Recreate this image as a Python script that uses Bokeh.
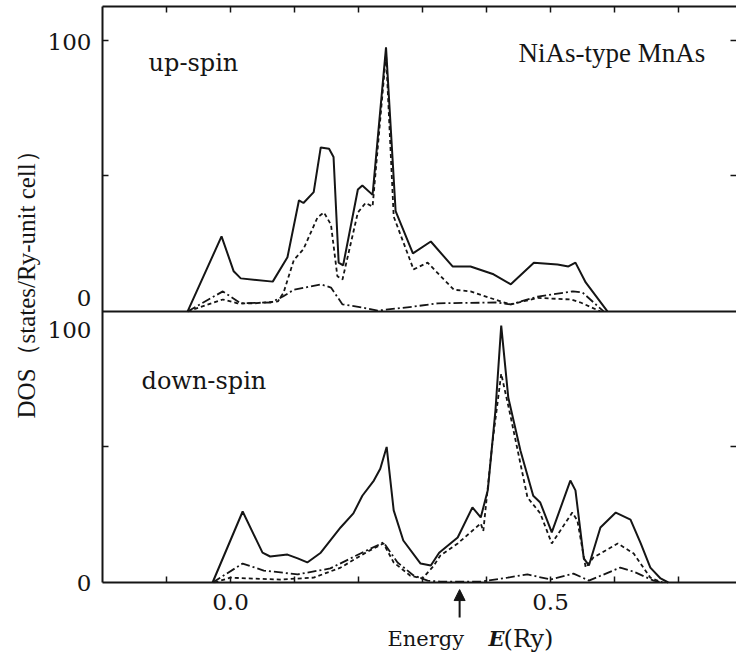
import math
from bokeh.plotting import figure
from bokeh.models import (ColumnDataSource, Range1d, FixedTicker, LinearAxis, Label,
                          Arrow, NormalHead)
from bokeh.transform import dodge
from bokeh.embed import file_html
from bokeh.resources import INLINE

# ---------------- data (E in Ry, DOS in states/Ry-unit cell) ----------------
up_total_e = [-0.067, -0.014, 0.005, 0.016, 0.066, 0.089, 0.107, 0.114, 0.130, 0.141, 0.154,
              0.161, 0.169, 0.176, 0.199, 0.206, 0.222, 0.243, 0.258, 0.285, 0.313, 0.347,
              0.375, 0.411, 0.438, 0.474, 0.511, 0.528, 0.539, 0.555, 0.589]
up_total_v = [0, 27.7, 14.8, 12.2, 11.0, 20, 41, 40, 44, 60.5, 60,
              57, 18, 17, 45, 46.5, 43, 97.4, 37, 21.4, 25.8, 16.6,
              16.6, 13.7, 10, 18, 17.3, 16.6, 18, 10.7, 0]

up_d_e = [-0.067, -0.012, 0.011, 0.037, 0.074, 0.083, 0.099, 0.114, 0.136, 0.146, 0.157,
          0.167, 0.175, 0.199, 0.211, 0.222, 0.243, 0.255, 0.286, 0.308, 0.349, 0.375,
          0.422, 0.438, 0.480, 0.532, 0.547, 0.578]
up_d_v = [0, 4.4, 3, 3, 3.7, 7, 19, 23, 34.7, 36.5, 32,
          13, 11.8, 36.5, 40, 38.7, 95, 35, 15.5, 18, 8, 7.4,
          3.7, 2.6, 5, 4.4, 3.3, 0]

up_p_e = [-0.067, -0.012, 0.016, 0.063, 0.082, 0.099, 0.141, 0.157, 0.175, 0.205, 0.230,
          0.286, 0.324, 0.415, 0.438, 0.480, 0.535, 0.550, 0.583]
up_p_v = [0, 7.4, 3, 3.3, 5.5, 8, 10, 8.8, 2.6, 1.5, 0.3,
          1.8, 3, 3.3, 2.6, 5.5, 7.4, 7, 0]

down_total_e = [-0.028, 0.019, 0.050, 0.062, 0.089, 0.105, 0.120, 0.141, 0.172, 0.192, 0.206,
                0.224, 0.234, 0.244, 0.255, 0.270, 0.297, 0.313, 0.326, 0.355, 0.378, 0.391,
                0.402, 0.414, 0.423, 0.434, 0.453, 0.473, 0.484, 0.502, 0.531, 0.539, 0.552,
                0.560, 0.578, 0.602, 0.625, 0.641, 0.656, 0.672, 0.684]
down_total_v = [0, 26.2, 11, 9.6, 10.3, 8.9, 7.4, 11, 20.3, 25.5, 32,
                37.6, 42, 50, 26.6, 15.5, 7, 6.3, 11, 16.6, 27.7, 24,
                34, 63.5, 94.8, 68.3, 48.7, 32, 29.5, 18.5, 37.6, 34, 8.9,
                6.3, 20.3, 25.8, 23.2, 14.4, 5.5, 1.5, 0]

down_d_e = [-0.025, 0.000, 0.027, 0.078, 0.130, 0.172, 0.214, 0.239, 0.255, 0.281, 0.300,
            0.317, 0.328, 0.355, 0.391, 0.395, 0.409, 0.423, 0.437, 0.464, 0.484, 0.502,
            0.534, 0.542, 0.555, 0.567, 0.605, 0.630, 0.656, 0.675]
down_d_v = [0, 1.8, 1.5, 1.1, 1.8, 5.5, 11.4, 14.4, 7.4, 2.5, 1.5,
            6, 10, 14.4, 21.8, 19, 51, 77, 62, 31.4, 25.5, 14.4,
            25.8, 22.9, 5.5, 9.2, 14.4, 10.7, 1.8, 0]

down_p_e = [-0.028, 0.019, 0.052, 0.105, 0.156, 0.203, 0.239, 0.261, 0.286, 0.308, 0.328,
            0.391, 0.433, 0.464, 0.500, 0.536, 0.560, 0.609, 0.630, 0.661, 0.675]
down_p_v = [0, 7, 4.4, 3, 5.2, 10.7, 14.8, 7.4, 2.6, 0.7, 0.3,
            0.3, 1.8, 3, 1.1, 3.3, 0.7, 5.5, 4, 0.7, 0]

x_major_ticks = [0.0, 0.5]
x_minor_ticks = [-0.1, 0.1, 0.2, 0.3, 0.4, 0.6, 0.7]
x_all_ticks = [-0.1, 0.0, 0.1, 0.2, 0.3, 0.4, 0.5, 0.6, 0.7]
y_tick_marks = [50, 150, 200]
# label positions (lower panel 0..100, upper panel 0..100 shifted by 100)
y_label_pos = [0, 93.3, 105.1, 199.5]
y_label_txt = ["0", "100", "0", "100"]
panel_offset = 100
fermi_energy = 0.358

E_MIN, E_MAX = -0.2, 0.7906
V_MAX = 212.5

# ---------------- figure (frame covers the whole canvas) ----------------
p = figure(width=736, height=653, output_backend="svg", toolbar_location=None,
           x_range=Range1d(-0.359375, 0.790625), y_range=Range1d(-26.19, 214.71),
           x_axis_location=None, y_axis_location=None,
           min_border=0, min_border_left=0, min_border_right=0,
           min_border_top=0, min_border_bottom=0,
           background_fill_color="white", border_fill_color="white")
p.outline_line_color = None
p.grid.visible = False

ink = "#151515"

def style_axis(ax):
    ax.axis_line_color = ink
    ax.axis_line_width = 2
    ax.major_tick_line_color = ink
    ax.major_tick_line_width = 1.5
    ax.major_tick_in = 6
    ax.major_tick_out = 0
    ax.minor_tick_line_color = ink
    ax.minor_tick_line_width = 1.5
    ax.minor_tick_in = 6
    ax.minor_tick_out = 0
    ax.major_label_text_font = "DejaVu Serif"
    ax.major_label_text_font_size = "23px"
    ax.major_label_text_color = ink

# bottom axis (E)
bx = LinearAxis(fixed_location=0, bounds=(E_MIN, E_MAX),
                ticker=FixedTicker(ticks=x_major_ticks, minor_ticks=x_minor_ticks))
style_axis(bx)
bx.major_label_overrides = {0.0: "0.0", 0.5: "0.5"}
bx.major_label_standoff = 11
p.add_layout(bx, "below")

# left axis (DOS)
ly = LinearAxis(fixed_location=E_MIN, bounds=(0, V_MAX),
                ticker=FixedTicker(ticks=y_label_pos, minor_ticks=y_tick_marks))
style_axis(ly)
ly.major_tick_line_color = None
ly.major_label_overrides = dict(zip(y_label_pos, y_label_txt))
ly.major_label_standoff = 11
p.add_layout(ly, "left")

# right border ticks (border itself lies just outside the picture)
ry = LinearAxis(fixed_location=E_MAX, bounds=(0, V_MAX),
                ticker=FixedTicker(ticks=[], minor_ticks=y_tick_marks))
style_axis(ry)
ry.axis_line_color = None
p.add_layout(ry, "right")

# top border
tx = LinearAxis(fixed_location=V_MAX, bounds=(E_MIN, E_MAX),
                ticker=FixedTicker(ticks=[], minor_ticks=x_all_ticks))
style_axis(tx)
p.add_layout(tx, "above")

# baseline of the up-spin panel (border between the panels)
mx = LinearAxis(fixed_location=panel_offset, bounds=(E_MIN, E_MAX),
                ticker=FixedTicker(ticks=[], minor_ticks=[]))
style_axis(mx)
p.add_layout(mx, "below")

# ---------------- curves ----------------
dash = "4 3"
dashdot = "9 3 2 3"

s = ColumnDataSource(dict(e=down_total_e, v=down_total_v))
p.line("e", "v", source=s, line_color=ink, line_width=2)
s = ColumnDataSource(dict(e=down_d_e, v=down_d_v))
p.line("e", "v", source=s, line_color=ink, line_width=1.8, line_dash=dash)
s = ColumnDataSource(dict(e=down_p_e, v=down_p_v))
p.line("e", "v", source=s, line_color=ink, line_width=1.8, line_dash=dashdot)

s = ColumnDataSource(dict(e=up_total_e, v=up_total_v))
p.line("e", dodge("v", panel_offset), source=s, line_color=ink, line_width=2)
s = ColumnDataSource(dict(e=up_d_e, v=up_d_v))
p.line("e", dodge("v", panel_offset), source=s, line_color=ink, line_width=1.8, line_dash=dash)
s = ColumnDataSource(dict(e=up_p_e, v=up_p_v))
p.line("e", dodge("v", panel_offset), source=s, line_color=ink, line_width=1.8, line_dash=dashdot)

# ---------------- texts ----------------
def lab(x, y, text, font="DejaVu Serif", size="21px", align="left", style="normal", angle=0):
    p.add_layout(Label(x=x, y=y, text=text, text_font=font, text_font_size=size,
                       text_align=align, text_baseline="middle", text_color=ink,
                       text_font_style=style, angle=angle))

lab(-0.128, 191.5, "up-spin", size="24px")
lab(-0.139, 74.5, "down-spin", size="24px")
lab(0.450, 195.5, "NiAs-type MnAs", font="Liberation Serif", size="27px")

lab(0.2453, -20.7, "Energy", size="21px")
lab(0.4031, -20.7, "E", size="21px", style="bold italic")
lab(0.4266, -20.7, "(Ry)", size="24px")

lab(-0.319, 112.2, "DOS（states/Ry-unit cell）", font="Liberation Serif", size="25px",
    align="center", angle=math.pi / 2)

p.add_layout(Arrow(end=NormalHead(size=11, fill_color=ink, line_color=ink),
                   x_start=fermi_energy, y_start=-12.9, x_end=fermi_energy, y_end=-2.6,
                   line_color=ink, line_width=2))

open("out.html", "w").write(file_html(p, INLINE))
